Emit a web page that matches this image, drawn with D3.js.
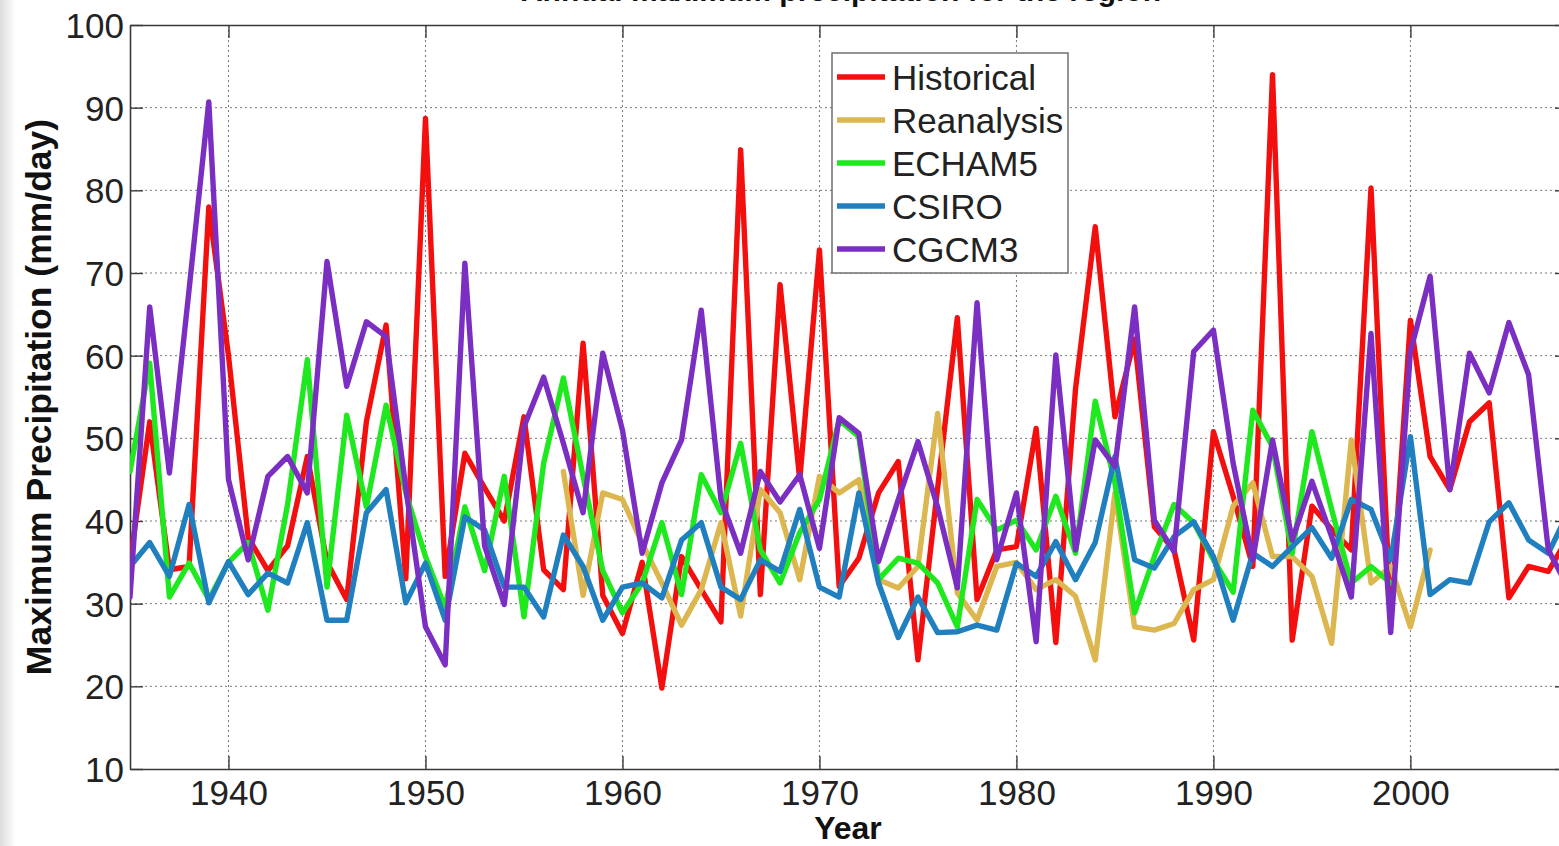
<!DOCTYPE html>
<html>
<head>
<meta charset="utf-8">
<script src="https://cdn.jsdelivr.net/npm/d3@7"></script>
<style>
  html, body { margin: 0; padding: 0; background: #ffffff; overflow: hidden; }
  svg { display: block; font-family: "Liberation Sans", Arial, sans-serif; }
</style>
</head>
<body>
<svg id="chart" width="1559" height="846"></svg>
<script>
// Annual maximum daily precipitation, 1935-2008
const years = d3.range(1935, 2009);

const historical = [35, 52, 34.1, 34.5, 78, 60, 38, 34, 37, 47.8,
  35, 30.5, 52, 63.7, 33, 88.7, 33.3, 48.2, 44, 40,
  52.6, 34.1, 31.7, 61.5, 31, 26.4, 35, 19.8, 35.7, 31.7,
  27.8, 84.9, 31.1, 68.6, 45, 72.8, 32.1, 35.5, 43.4, 47.2,
  23.2, 44, 64.6, 30.5, 36.5, 36.9, 51.2, 25.3, 56, 75.6,
  52.6, 62, 39.3, 36.5, 25.6, 50.8, 43, 34.5, 94, 25.6,
  41.8, 39, 36.5, 80.3, 28, 64.3, 47.8, 43.8, 52, 54.3,
  30.7, 34.5, 33.9, 38];

// Reanalysis covers 1957-2001
const reanalysisStart = 1957;
const reanalysis = [46, 31, 43.4, 42.6, 37.3, 32.5, 27.4, 31.7, 39.8, 28.5,
  43.8, 41, 32.9, 45.4, 43.4, 45, 32.9, 31.9, 34.5, 53,
  31.3, 28, 34.5, 35, 31.7, 32.9, 30.9, 23.2, 43.4, 27.2,
  26.8, 27.6, 31.7, 32.9, 41.8, 44.6, 35.7, 35.7, 33.3, 25.2,
  49.8, 32.5, 34.5, 27.2, 36.5];

// ECHAM5 covers 1935-1999
const echam5 = [46, 59.1, 30.8, 34.9, 30.5, 35, 37.4, 29.2, 42, 59.5,
  32, 52.8, 41.7, 54, 43.4, 35.7, 29.5, 41.7, 34, 45.4,
  28.4, 47, 57.3, 45.4, 34, 28.9, 32.5, 39.8, 31.1, 45.6,
  41, 49.4, 36.5, 32.5, 38.6, 42.6, 52.2, 50.2, 32.9, 35.5,
  34.9, 32.5, 27.2, 42.6, 38.9, 40.1, 36.5, 43, 36.1, 54.5,
  44.6, 28.9, 35.7, 42, 39.8, 35.3, 31.4, 53.4, 49, 36.1,
  50.8, 41.4, 32.5, 34.5, 32.5];

const csiro = [34.5, 37.4, 33.3, 42, 30.1, 35.1, 31.1, 33.7, 32.5, 39.8,
  28, 28, 41, 43.8, 30.1, 34.9, 28, 40.5, 38.9, 32,
  32, 28.4, 38.3, 34.5, 28, 32, 32.5, 30.7, 37.7, 39.8,
  32, 30.5, 35.3, 33.9, 41.4, 32, 30.8, 43.4, 32.5, 25.9,
  30.8, 26.5, 26.6, 27.4, 26.8, 34.9, 33.3, 37.5, 32.9, 37.4,
  47.8, 35.3, 34.3, 38.1, 39.9, 35.7, 28, 36.1, 34.5, 36.9,
  39.2, 35.5, 42.6, 41.4, 35.3, 50.2, 31.1, 32.9, 32.5, 39.9,
  42.2, 37.7, 36.1, 41];

const cgcm3 = [30.8, 65.9, 45.8, 68, 90.7, 45, 35.3, 45.4, 47.8, 43.4,
  71.4, 56.3, 64.1, 62.3, 44, 27.2, 22.6, 71.2, 37, 29.9,
  51.4, 57.4, 49.4, 41, 60.3, 51, 36.1, 44.6, 49.8, 65.5,
  42.6, 36.1, 46, 42.3, 45.6, 36.7, 52.5, 50.6, 35.1, 42.6,
  49.6, 41.7, 31.9, 66.4, 35.3, 43.4, 25.4, 60.1, 36.5, 49.8,
  46.6, 65.9, 40.1, 36.3, 60.5, 63.1, 47, 35.3, 49.8, 37.7,
  44.8, 38.1, 30.8, 62.7, 26.5, 60.5, 69.6, 43.8, 60.3, 55.5,
  64, 57.7, 36.5, 32];

const seriesNames = ["Historical", "Reanalysis", "ECHAM5", "CSIRO", "CGCM3"];
const seriesColors = ["#f40f0f", "#dcb74f", "#1ee81e", "#1f7fbf", "#7b2fc2"];
const xTicks = [1940, 1950, 1960, 1970, 1980, 1990, 2000];
const yTicks = [10, 20, 30, 40, 50, 60, 70, 80, 90, 100];
const titleText = "Annual maximum precipitation for the region";
const xLabel = "Year";
const yLabel = "Maximum Precipitation (mm/day)";

function toPoints(values, startYear) {
  return values.map((v, i) => ({ year: startYear + i, value: v }));
}
const series = [
  toPoints(historical, 1935),
  toPoints(reanalysis, reanalysisStart),
  toPoints(echam5, 1935),
  toPoints(csiro, 1935),
  toPoints(cgcm3, 1935)
];

const svg = d3.select("#chart");
const W = 1559, H = 846;
const margin = { left: 130, top: 25, bottom: 769, right: 1568 };

const x = d3.scaleLinear().domain([1935, 2008]).range([margin.left, margin.right]);
const y = d3.scaleLinear().domain([10, 100]).range([margin.bottom, margin.top]);

// soft grey strip at the far left edge
const defs = svg.append("defs");
const grad = defs.append("linearGradient").attr("id", "edge").attr("x1", 0).attr("x2", 1);
grad.append("stop").attr("offset", 0).attr("stop-color", "#dcdcdc");
grad.append("stop").attr("offset", 1).attr("stop-color", "#ffffff");
svg.append("rect").attr("x", 0).attr("y", 0).attr("width", 16).attr("height", H).attr("fill", "url(#edge)");

defs.append("clipPath").attr("id", "plotclip")
  .append("rect").attr("x", margin.left).attr("y", margin.top)
  .attr("width", margin.right - margin.left).attr("height", margin.bottom - margin.top);

// dotted grid
const grid = svg.append("g");
grid.selectAll("line.gx").data(xTicks).join("line")
  .attr("x1", d => x(d)).attr("x2", d => x(d))
  .attr("y1", margin.top).attr("y2", margin.bottom)
  .attr("stroke", "#777").attr("stroke-width", 1).attr("stroke-dasharray", "2,3");
grid.selectAll("line.gy").data(yTicks.slice(1, -1)).join("line")
  .attr("x1", margin.left).attr("x2", margin.right)
  .attr("y1", d => y(d)).attr("y2", d => y(d))
  .attr("stroke", "#777").attr("stroke-width", 1).attr("stroke-dasharray", "2,3");

// axes with inward ticks
const tickLen = 13;
const axisColor = "#3a3a3a";
const fontSize = 35;

const gx = svg.append("g").attr("transform", `translate(0,${margin.bottom})`)
  .call(d3.axisBottom(x).tickValues(xTicks).tickFormat(d3.format("d")).tickSizeInner(-tickLen).tickSizeOuter(0).tickPadding(11));
const gxTop = svg.append("g").attr("transform", `translate(0,${margin.top})`)
  .call(d3.axisTop(x).tickValues(xTicks).tickFormat("").tickSizeInner(-tickLen).tickSizeOuter(0));
const gy = svg.append("g").attr("transform", `translate(${margin.left},0)`)
  .call(d3.axisLeft(y).tickValues(yTicks).tickFormat(d3.format("d")).tickSizeInner(-tickLen).tickSizeOuter(0).tickPadding(6));
const gyRight = svg.append("g").attr("transform", `translate(${margin.right},0)`)
  .call(d3.axisRight(y).tickValues(yTicks).tickFormat("").tickSizeInner(-tickLen).tickSizeOuter(0));

[gx, gxTop, gy, gyRight].forEach(g => {
  g.select(".domain").attr("stroke", axisColor).attr("stroke-width", 1.6);
  g.selectAll(".tick line").attr("stroke", axisColor).attr("stroke-width", 1.4);
  g.selectAll(".tick text").attr("fill", "#222").style("font-size", fontSize + "px")
    .style("font-family", '"Liberation Sans", Arial, sans-serif');
});
gy.selectAll(".tick text").attr("dy", "0.36em");
gx.selectAll(".tick text").attr("dy", "0.71em");

// series lines
const line = d3.line().x(d => x(d.year)).y(d => y(d.value));
const lines = svg.append("g").attr("clip-path", "url(#plotclip)");
series.forEach((pts, i) => {
  lines.append("path").datum(pts)
    .attr("d", line)
    .attr("fill", "none")
    .attr("stroke", seriesColors[i])
    .attr("stroke-width", 5.4)
    .attr("stroke-linejoin", "round")
    .attr("stroke-linecap", "round");
});

// legend
const lg = svg.append("g");
const lgX = 832, lgY = 53, lgW = 236, lgH = 220;
lg.append("rect").attr("x", lgX).attr("y", lgY).attr("width", lgW).attr("height", lgH)
  .attr("fill", "#fff").attr("stroke", "#666").attr("stroke-width", 1.4);
const rowY = d3.scalePoint().domain(seriesNames).range([lgY + 24, lgY + 196]);
seriesNames.forEach((name, i) => {
  lg.append("line").attr("x1", lgX + 5).attr("x2", lgX + 53)
    .attr("y1", rowY(name)).attr("y2", rowY(name))
    .attr("stroke", seriesColors[i]).attr("stroke-width", 5.4);
  lg.append("text").attr("x", lgX + 60).attr("y", rowY(name)).attr("dy", "0.36em")
    .attr("fill", "#222").style("font-size", fontSize + "px").text(name);
});

// labels
svg.append("text").attr("x", 848).attr("y", 839).attr("text-anchor", "middle")
  .attr("fill", "#111").style("font-size", "32px").style("font-weight", "bold").text(xLabel);
svg.append("text").attr("transform", `translate(51,397) rotate(-90)`).attr("text-anchor", "middle")
  .attr("fill", "#111").style("font-size", "35.5px").style("font-weight", "bold").text(yLabel);
// title, mostly above the top of the page
svg.append("text").attr("x", 841).attr("y", 1).attr("text-anchor", "middle")
  .attr("fill", "#111").style("font-size", "30px").style("font-weight", "bold").text(titleText);
</script>
</body>
</html>
